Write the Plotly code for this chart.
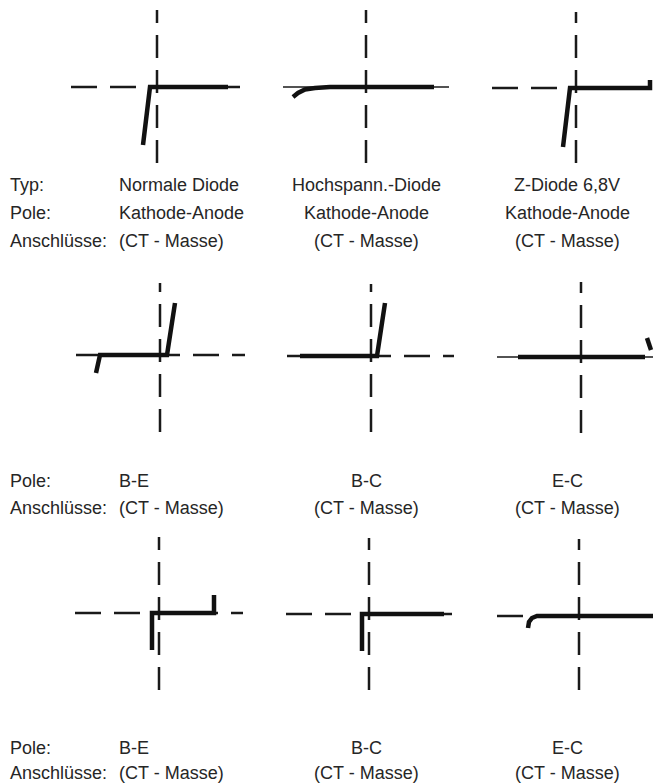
import plotly.graph_objects as go

W, H = 658, 784

# ---- panel data (panel units: crosshair at 0,0; x right, y up) ----
panel_names = ["Normale Diode", "Hochspann.-Diode", "Z-Diode 6,8V",
               "B-E (1)", "B-C (1)", "E-C (1)", "B-E (2)", "B-C (2)", "E-C (2)"]

# crosshair extents
h_left = [-86, -83, -84, -84, -84, -84, -84, -83, -82]
h_right = [83, 83, 76, 85, 83, 72, 84, 83, 74]
v_top = [77, 77, 76, 72, 72, 75, 76, 76, 77]
v_bottom = [-76, -76, -75, -77, -76, -76, -77, -76, -74]
h_solid = [False, True, False, False, False, True, False, False, False]

# characteristic curves (list of segments per panel)
curve_x = [
    [[-14, -7, 71]],
    [[-73, -68, -61, -51, -36, 68]],
    [[-13, -6, 74, 74]],
    [[-64, -60, 7, 15]],
    [[-71, 6, 14]],
    [[-63, 64], [66, 68, 70]],
    [[-7, -7, 55, 55]],
    [[-7, -7, 75]],
    [[-51, -50, -47, -42, 74]],
]
curve_y = [
    [[-58, 0, 0]],
    [[-10, -6, -2.5, -1, 0, 0]],
    [[-59, 0, 0, 8]],
    [[-18, 0, 0, 52]],
    [[0, 0, 53]],
    [[0, 0], [19, 13, 7]],
    [[-37, 0, 0, 18]],
    [[-37, 0, 0]],
    [[-12, -6, -2, 0, 0]],
]

# ---- text ----
labels_r1 = ["Typ:", "Pole:", "Anschlüsse:"]
col1_r1 = ["Normale Diode", "Kathode-Anode", "(CT - Masse)"]
col2_r1 = ["Hochspann.-Diode", "Kathode-Anode", "(CT - Masse)"]
col3_r1 = ["Z-Diode 6,8V", "Kathode-Anode", "(CT - Masse)"]
labels_r2 = ["Pole:", "Anschlüsse:"]
col1_r2 = ["B-E", "(CT - Masse)"]
col2_r2 = ["B-C", "(CT - Masse)"]
col3_r2 = ["E-C", "(CT - Masse)"]
labels_r3 = ["Pole:", "Anschlüsse:"]
col1_r3 = ["B-E", "(CT - Masse)"]
col2_r3 = ["B-C", "(CT - Masse)"]
col3_r3 = ["E-C", "(CT - Masse)"]

# ---- layout positions (px) ----
centers = [(157, 87), (366, 87), (576, 88),
           (160, 355), (371, 356), (581, 357),
           (159, 613), (369, 614), (579, 616)]
HX, HY = 92, 82

fig = go.Figure()
layout = dict(width=W, height=H, margin=dict(l=0, r=0, t=0, b=0),
              paper_bgcolor="white", plot_bgcolor="white", showlegend=False)

HDASH = "26px,13px"
VDASH = "23px,12px"
for i, (cx, cy) in enumerate(centers):
    k = "" if i == 0 else str(i + 1)
    x0, x1 = max(0, cx - HX), min(W, cx + HX)
    y0, y1 = max(0, cy - HY), min(H, cy + HY)
    layout["xaxis" + k] = dict(domain=[x0 / W, x1 / W], range=[x0 - cx, x1 - cx],
                               visible=False, fixedrange=True, anchor="y" + k)
    layout["yaxis" + k] = dict(domain=[1 - y1 / H, 1 - y0 / H], range=[cy - y1, cy - y0],
                               visible=False, fixedrange=True, anchor="x" + k)
    xa, ya = "x" + k, "y" + k
    # horizontal crosshair (drawn left to right)
    fig.add_trace(go.Scatter(x=[h_left[i], h_right[i]], y=[0, 0], mode="lines",
                             line=dict(color="#1a1a1a", width=1.6 if h_solid[i] else 2.5,
                                       dash="solid" if h_solid[i] else HDASH),
                             xaxis=xa, yaxis=ya, hoverinfo="skip"))
    # vertical crosshair (drawn bottom to top)
    fig.add_trace(go.Scatter(x=[0, 0], y=[v_bottom[i], v_top[i]], mode="lines",
                             line=dict(color="#1a1a1a", width=2.5, dash=VDASH),
                             xaxis=xa, yaxis=ya, hoverinfo="skip"))
    for sx, sy in zip(curve_x[i], curve_y[i]):
        fig.add_trace(go.Scatter(x=sx, y=sy, mode="lines",
                                 line=dict(color="#111111", width=4.5, shape="linear"),
                                 xaxis=xa, yaxis=ya, hoverinfo="skip", name=panel_names[i]))

fig.update_layout(**layout)

FONT = dict(family="Liberation Sans, Arial, sans-serif", size=18, color="#262626")
LX, C1X, C2X, C3X = 8, 117, 366, 567

def add_block(labels, c1, c2, c3, ys):
    for lab, a, b, c, y in zip(labels, c1, c2, c3, ys):
        yp = 1 - y / H
        fig.add_annotation(text=lab, x=LX / W, y=yp, xref="paper", yref="paper",
                           xanchor="left", yanchor="middle", showarrow=False, font=FONT)
        fig.add_annotation(text=a, x=C1X / W, y=yp, xref="paper", yref="paper",
                           xanchor="left", yanchor="middle", showarrow=False, font=FONT)
        fig.add_annotation(text=b, x=C2X / W, y=yp, xref="paper", yref="paper",
                           xanchor="center", yanchor="middle", showarrow=False, font=FONT)
        fig.add_annotation(text=c, x=C3X / W, y=yp, xref="paper", yref="paper",
                           xanchor="center", yanchor="middle", showarrow=False, font=FONT)

add_block(labels_r1, col1_r1, col2_r1, col3_r1, [185, 213, 241])
add_block(labels_r2, col1_r2, col2_r2, col3_r2, [481, 508])
add_block(labels_r3, col1_r3, col2_r3, col3_r3, [748, 773])

fig.write_html("out.html", config={"displayModeBar": False},
               post_script="document.body.style.margin='0';document.body.style.overflow='hidden';")
